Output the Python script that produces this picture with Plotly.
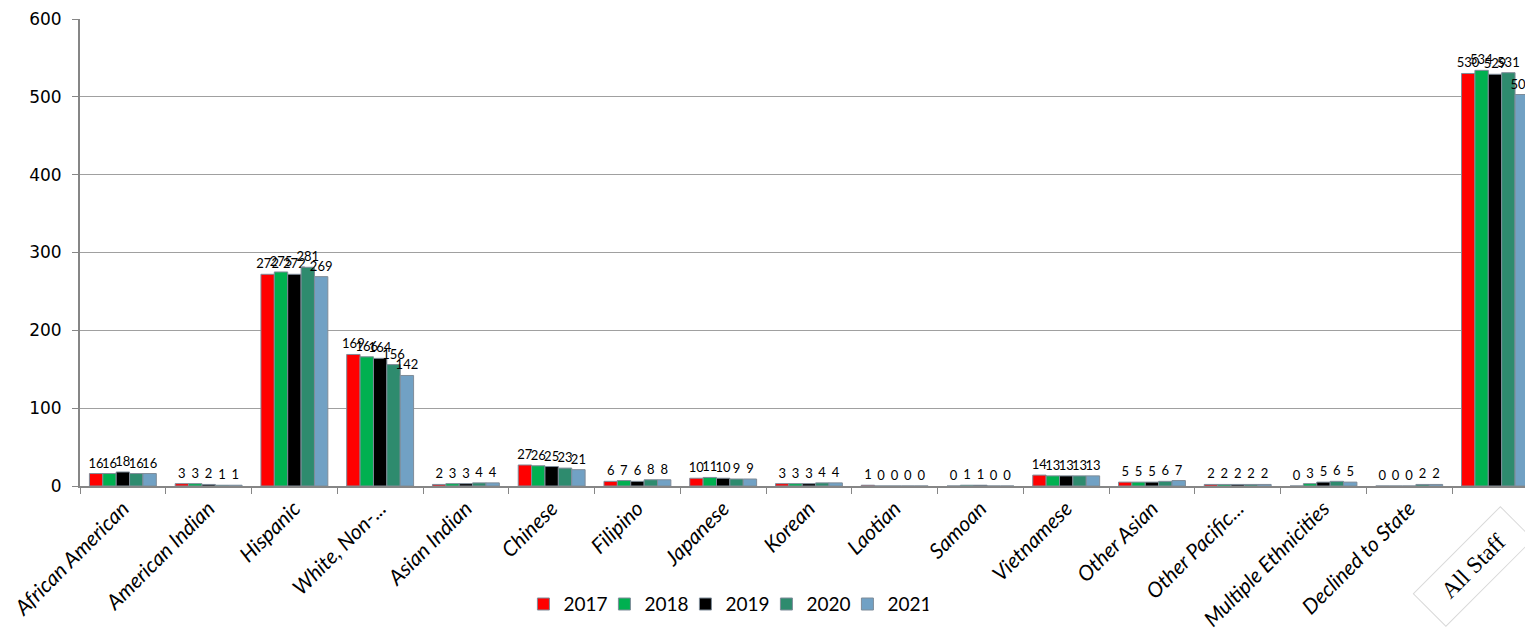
import plotly.graph_objects as go

categories = ["African American", "American Indian", "Hispanic", "White, Non-...", "Asian Indian",
              "Chinese", "Filipino", "Japanese", "Korean", "Laotian", "Samoan", "Vietnamese",
              "Other Asian", "Other Pacific...", "Multiple Ethnicities", "Declined to State", "All Staff"]
years = ["2017", "2018", "2019", "2020", "2021"]
v2017 = [16, 3, 272, 169, 2, 27, 6, 10, 3, 1, 0, 14, 5, 2, 0, 0, 530]
v2018 = [16, 3, 275, 166, 3, 26, 7, 11, 3, 0, 1, 13, 5, 2, 3, 0, 534]
v2019 = [18, 2, 272, 164, 3, 25, 6, 10, 3, 0, 1, 13, 5, 2, 5, 0, 529]
v2020 = [16, 1, 281, 156, 4, 23, 8, 9, 4, 0, 0, 13, 6, 2, 6, 2, 531]
v2021 = [16, 1, 269, 142, 4, 21, 8, 9, 4, 0, 0, 13, 7, 2, 5, 2, 503]
series = [v2017, v2018, v2019, v2020, v2021]
colors = ["#FF0000", "#00B050", "#000000", "#2E8B6E", "#71A1C4"]

fig = go.Figure()
for y, vals, c in zip(years, series, colors):
    fig.add_trace(go.Bar(
        name=y, x=categories, y=vals,
        marker=dict(color=c, line=dict(color="#7F8C99", width=1)),
        text=[str(v) for v in vals], textposition="outside",
        textfont=dict(family="Lato", size=13, color="#000000"),
        constraintext="none", cliponaxis=True,
    ))

ticktext = [c if c != "All Staff" else "" for c in categories]

fig.update_layout(
    width=1525, height=636,
    margin=dict(l=80, r=0, t=19, b=150),
    paper_bgcolor="white", plot_bgcolor="white",
    barmode="group", bargap=0.22, bargroupgap=0,
    showlegend=True,
    legend=dict(orientation="h", x=0.447, xanchor="center", y=-0.253, yanchor="middle",
                font=dict(family="Lato", size=19, color="#000"), traceorder="normal",
                itemwidth=30, entrywidth=36, entrywidthmode="pixels"),
    xaxis=dict(
        type="category", range=[-0.5, 16.35], automargin=False,
        tickmode="array", tickvals=categories, ticktext=ticktext,
        tickangle=-45, tickfont=dict(family="Lato", size=21, color="#000", style="italic"),
        showline=True, linecolor="#868686", linewidth=2,
        ticks="outside", tickson="boundaries", ticklen=6, tickcolor="#868686",
        showgrid=False,
    ),
    yaxis=dict(
        range=[0, 600], tickmode="linear", dtick=100, automargin=False,
        tickfont=dict(family="DejaVu Sans", size=17, color="#000"),
        ticklabelstandoff=7,
        showline=True, linecolor="#868686", linewidth=2,
        ticks="outside", ticklen=6, tickcolor="#868686",
        showgrid=True, gridcolor="#A0A0A0", gridwidth=1,
        zeroline=False,
    ),
)

fig.add_annotation(
    x="All Staff", xref="x", y=-0.172, yref="paper", xshift=-22,
    text="&nbsp;&nbsp;All Staff&nbsp;&nbsp;", showarrow=False, textangle=-45,
    font=dict(family="Liberation Serif", size=23, color="#000"),
    bordercolor="#D9D9D9", borderwidth=1, borderpad=10,
    xanchor="center", yanchor="middle",
)

fig.write_html("out.html", config={"displayModeBar": False},
               post_script="document.body.style.margin='0';document.body.style.overflow='hidden';")
